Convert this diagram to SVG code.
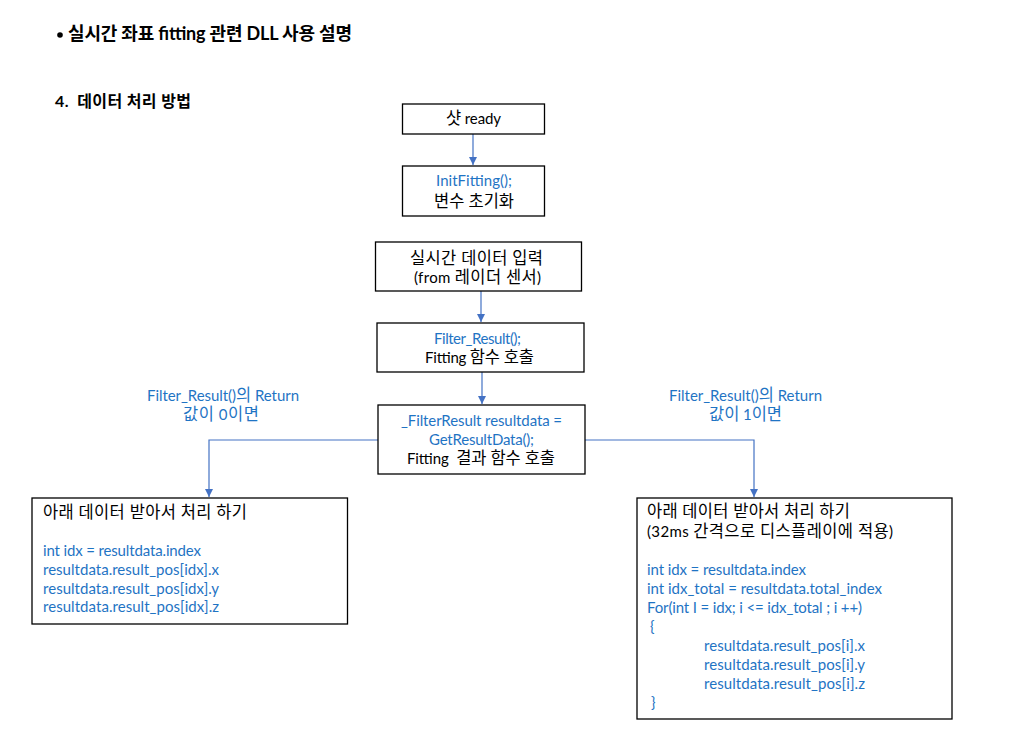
<svg xmlns="http://www.w3.org/2000/svg" width="1020" height="747" viewBox="0 0 1020 747">
<style>
text{font-family:Lato,"Noto Sans CJK KR",sans-serif;font-size:15px;fill:#000}
.k{font-size:16.5px}
.b{fill:#1f74c4}
.h{font-weight:bold;font-size:18px}
.h2{font-weight:bold;font-size:16px}
.box{fill:#fff;stroke:#000;stroke-width:1.3}
.c{fill:none;stroke:#4472c4;stroke-width:1.2}
.m{text-anchor:middle}
</style>
<defs>
<marker id="ah" viewBox="0 0 10 10" refX="10" refY="5" markerWidth="8" markerHeight="8" markerUnits="userSpaceOnUse" orient="auto">
<path d="M0,0L10,5L0,10z" fill="#4472c4"/>
</marker>
</defs>
<rect width="1020" height="747" fill="#fff"/>
<g id="title">
<circle cx="60" cy="35" r="2.8" fill="#000"/>
<text class="h" x="68" y="40" textLength="284" lengthAdjust="spacing">실시간 좌표 fitting 관련 DLL 사용 설명</text>
<text class="h2" x="55" y="107" textLength="136" lengthAdjust="spacing" xml:space="preserve">4.  데이터 처리 방법</text>
</g>
<g id="connectors">
<path class="c" d="M473,134V165" marker-end="url(#ah)"/>
<path class="c" d="M481,291V322" marker-end="url(#ah)"/>
<path class="c" d="M482,372V404" marker-end="url(#ah)"/>
<path class="c" d="M378,440H209V497" marker-end="url(#ah)"/>
<path class="c" d="M585,440H754V497" marker-end="url(#ah)"/>
</g>
<g id="lbl0">
<text class="b" x="147" y="401" textLength="152" lengthAdjust="spacing">Filter_Result()<tspan class="k">의</tspan> Return</text>
<text class="b" x="183" y="420" textLength="76" lengthAdjust="spacing"><tspan class="k">값이</tspan> 0<tspan class="k">이면</tspan></text>
</g>
<g id="lbl1">
<text class="b" x="669" y="401" textLength="153" lengthAdjust="spacing">Filter_Result()<tspan class="k">의</tspan> Return</text>
<text class="b" x="709" y="420" textLength="73" lengthAdjust="spacing"><tspan class="k">값이</tspan> 1<tspan class="k">이면</tspan></text>
</g>
<g id="n1">
<rect class="box" x="402.5" y="104" width="142" height="30"/>
<text x="446" y="124" textLength="55" lengthAdjust="spacing"><tspan class="k">샷</tspan> ready</text>
</g>
<g id="n2">
<rect class="box" x="402.5" y="166" width="142" height="50"/>
<text class="b" x="436" y="186" textLength="76" lengthAdjust="spacing">InitFitting();</text>
<text class="k" x="434" y="207" textLength="80" lengthAdjust="spacing">변수 초기화</text>
</g>
<g id="n3">
<rect class="box" x="375.5" y="242" width="206" height="49"/>
<text class="k" x="410" y="264" textLength="133" lengthAdjust="spacing">실시간 데이터 입력</text>
<text x="414" y="283" textLength="127" lengthAdjust="spacing">(from <tspan class="k">레이더 센서</tspan>)</text>
</g>
<g id="n4">
<rect class="box" x="377" y="323" width="207" height="49"/>
<text class="b" x="434" y="344" textLength="87" lengthAdjust="spacing">Filter_Result();</text>
<text x="425" y="363" textLength="109" lengthAdjust="spacing">Fitting <tspan class="k">함수 호출</tspan></text>
</g>
<g id="n5">
<rect class="box" x="378" y="405" width="207" height="69"/>
<text class="b" x="401" y="426" textLength="161" lengthAdjust="spacing">_FilterResult resultdata =</text>
<text class="b" x="429" y="445" textLength="105" lengthAdjust="spacing">GetResultData();</text>
<text x="407" y="464" textLength="148" lengthAdjust="spacing" xml:space="preserve">Fitting  <tspan class="k">결과 함수 호출</tspan></text>
</g>
<g id="n6">
<rect class="box" x="32" y="498" width="315.5" height="126"/>
<text class="k" x="43" y="518" textLength="204" lengthAdjust="spacing">아래 데이터 받아서 처리 하기</text>
<text class="b" x="43" y="556" textLength="158" lengthAdjust="spacing">int idx = resultdata.index</text>
<text class="b" x="43" y="575" textLength="176" lengthAdjust="spacing">resultdata.result_pos[idx].x</text>
<text class="b" x="43" y="594" textLength="176" lengthAdjust="spacing">resultdata.result_pos[idx].y</text>
<text class="b" x="43" y="612" textLength="176" lengthAdjust="spacing">resultdata.result_pos[idx].z</text>
</g>
<g id="n7">
<rect class="box" x="637" y="498" width="315" height="221"/>
<text class="k" x="647" y="517" textLength="203" lengthAdjust="spacing">아래 데이터 받아서 처리 하기</text>
<text x="647" y="537" textLength="246" lengthAdjust="spacing">(32ms <tspan class="k">간격으로 디스플레이에 적용</tspan>)</text>
<text class="b" x="647" y="575" textLength="159" lengthAdjust="spacing">int idx = resultdata.index</text>
<text class="b" x="647" y="594" textLength="235" lengthAdjust="spacing">int idx_total = resultdata.total_index</text>
<text class="b" x="647" y="613" textLength="215" lengthAdjust="spacing">For(int I = idx; i &lt;= idx_total ; i ++)</text>
<text class="b" x="650" y="632">{</text>
<text class="b" x="704" y="651" textLength="161" lengthAdjust="spacing">resultdata.result_pos[i].x</text>
<text class="b" x="704" y="670" textLength="161" lengthAdjust="spacing">resultdata.result_pos[i].y</text>
<text class="b" x="704" y="689" textLength="161" lengthAdjust="spacing">resultdata.result_pos[i].z</text>
<text class="b" x="651" y="708">}</text>
</g>
</svg>
